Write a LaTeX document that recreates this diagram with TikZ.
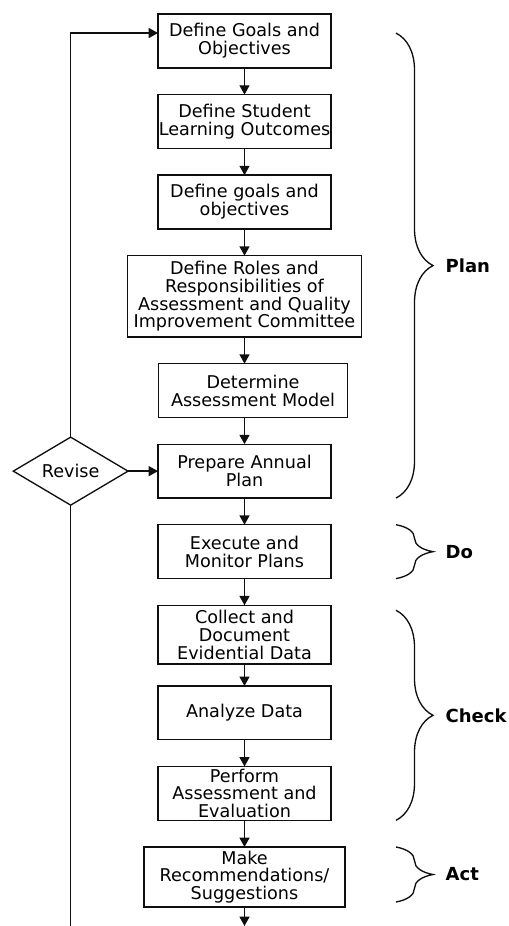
\documentclass[tikz,border=0pt]{standalone}
\usepackage{fontspec}
\setmainfont{DejaVu Sans}
\usepackage{tikz}
\usetikzlibrary{shapes.geometric, arrows.meta, positioning, calc, decorations.pathreplacing}
\definecolor{flowink}{RGB}{15, 15, 15}

\begin{document}
\begin{tikzpicture}[
    x=0.75pt, y=0.75pt,
    node distance=20pt,
    font=\fontsize{13.2}{13.4}\selectfont,
    stagebox/.style={draw=flowink, line width=1pt, align=center, inner xsep=0pt, inner ysep=0pt, outer sep=0pt, minimum width=129.75pt, minimum height=40.4pt},
    flow/.style={draw=flowink, line width=1pt, -{Triangle[length=7pt, width=7.5pt]}},
    phase/.style={draw=flowink, line width=1pt, decorate, decoration={brace, amplitude=27.75pt}},
    phaselabel/.style={font=\fontsize{13.5}{14}\selectfont\bfseries, anchor=west, inner sep=0pt, xshift=36.75pt}
]
    \useasboundingbox (0,0) rectangle (509,-926);

    % Main chain of steps, top to bottom
    \node[stagebox] (goals) at (244.5,-41) {Define Goals and\\Objectives};
    \node[stagebox, below=of goals] (outcomes) {Define Student\\Learning Outcomes};
    \node[stagebox, below=of outcomes] (aims) {Define goals and\\objectives};
    \node[stagebox, below=of aims, minimum width=175.5pt, minimum height=61pt] (roles) {Define Roles and\\Responsibilities of\\Assessment and Quality\\Improvement Committee};
    \node[stagebox, below=of roles, xshift=6.4pt, minimum width=141.75pt] (model) {Determine\\Assessment Model};
    \node[stagebox, below=of model, xshift=-6.4pt] (annual) {Prepare Annual\\Plan};
    \node[stagebox, below=of annual] (execute) {Execute and\\Monitor Plans};
    \node[stagebox, below=of execute, minimum height=44pt] (collect) {Collect and\\Document\\Evidential Data};
    \node[stagebox, below=16.5pt of collect] (analyze) {Analyze Data};
    \node[stagebox, below=of analyze] (perform) {Perform\\Assessment and\\Evaluation};
    \node[stagebox, below=of perform, minimum width=150.75pt, minimum height=45pt] (recommend) {Make\\Recommendations/\\Suggestions};

    % Revision loop
    \node[draw=flowink, line width=1pt, diamond, aspect=1.7, minimum width=86pt, minimum height=51pt, inner sep=0pt, outer sep=0pt, left=22.5pt of annual] (revise) {Revise};
    \coordinate (floor) at (0,-926);
    \coordinate (bx) at (396,0);

    % Arrows between steps
    \draw[flow] (goals) -- (outcomes);
    \draw[flow] (outcomes) -- (aims);
    \draw[flow] (aims) -- (roles);
    \draw[flow] (roles.south) -- (roles.south |- model.north);
    \draw[flow] (annual |- model.south) -- (annual.north);
    \draw[flow] (annual) -- (execute);
    \draw[flow] (execute) -- (collect);
    \draw[flow] (collect) -- (analyze);
    \draw[flow] (analyze) -- (perform);
    \draw[flow] (perform) -- (recommend);
    \draw[flow] (recommend.south) -- (recommend.south |- floor);

    \draw[flow] (revise.east) -- (annual.west);
    \draw[flow] (revise.north) |- ($(goals.west)+(0,6pt)$);
    \draw[draw=flowink, line width=1pt] (revise.south) -- (revise.south |- floor);

    % Phase braces
    \draw[phase] ($(goals.north -| bx)+(0,-19)$) -- (annual.south -| bx) node[phaselabel, midway] (plan) {Plan};
    \draw[phase] (execute.north -| bx) -- (execute.south -| bx) node[phaselabel, midway] (do) {Do};
    \draw[phase] ($(collect.north -| bx)+(0,-5)$) -- (perform.south -| bx) node[phaselabel, midway] (check) {Check};
    \draw[phase] (recommend.north -| bx) -- ($(recommend.south -| bx)+(0,5)$) node[phaselabel, midway] (act) {Act};

\end{tikzpicture}
\end{document}
